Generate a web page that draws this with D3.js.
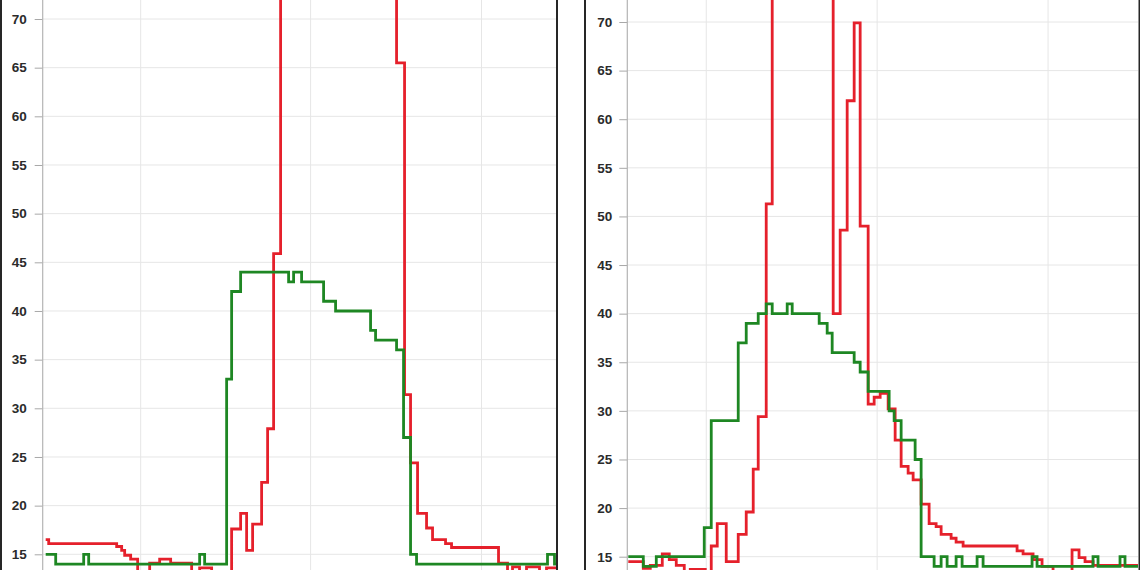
<!DOCTYPE html>
<html>
<head>
<meta charset="utf-8">
<script src="https://cdn.jsdelivr.net/npm/d3@7"></script>
<style>
  html, body { margin: 0; padding: 0; background: #fff; }
  svg { display: block; }
</style>
</head>
<body>
<svg width="1140" height="570"></svg>
<script>
// readings: [minute, value], value holds until the next reading
var yTicks = [15, 20, 25, 30, 35, 40, 45, 50, 55, 60, 65, 70];

var leftGridX = [98, 268, 439];
var leftRed = [
  [3, 16.5], [6, 16.1], [74, 15.8], [79, 15.4], [82, 14.9], [88, 14.5], [95, 13.0],
  [107, 14.1], [117, 14.5], [128, 14.1], [149, 13.0], [157, 13.6], [169, 12.5],
  [189, 17.6], [198, 19.2], [204, 15.4], [210, 18.1], [219, 22.4], [225, 27.9],
  [231, 45.9], [238, 80], [354, 65.5], [362, 31.4], [368, 24.4], [375, 19.2],
  [384, 17.7], [390, 16.5], [403, 16.1], [409, 15.7], [456, 14.1], [465, 13.0],
  [470, 13.7], [477, 13.1], [484, 13.7], [497, 13.1], [504, 13.6], [514, 13.6]
];
var leftGreen = [
  [3, 15], [13, 14], [41, 15], [46, 14], [157, 15], [162, 14], [184, 33], [189, 42],
  [198, 44], [246, 43], [251, 44], [259, 43], [281, 41], [293, 40], [328, 38],
  [333, 37], [354, 36], [361, 27], [368, 15], [374, 14], [505, 15], [512, 14], [514, 14]
];

var rightGridX = [79, 250, 421];
var rightRed = [
  [1, 14.5], [16, 13.8], [23, 14.1], [35, 15.3], [42, 14.7], [49, 14.1], [57, 13.0],
  [63, 13.7], [78, 12.5], [84, 16.1], [90, 18.4], [99, 14.5], [111, 17.3], [119, 19.6],
  [126, 24.0], [131, 29.4], [139, 51.3], [145, 85], [206, 40.0], [213, 48.6],
  [220, 61.9], [227, 69.9], [233, 49.0], [241, 30.7], [247, 31.4], [253, 31.8],
  [261, 30.2], [268, 27.0], [274, 24.3], [281, 23.6], [286, 22.9], [294, 20.4],
  [302, 18.4], [309, 18.1], [314, 17.3], [324, 16.9], [329, 16.5], [336, 16.1],
  [390, 15.6], [396, 15.3], [406, 14.7], [415, 14.0], [426, 12.5], [445, 15.7],
  [452, 14.9], [458, 14.5], [466, 14.1], [511, 14.1]
];
var rightGreen = [
  [1, 15], [16, 14], [29, 15], [77, 18], [84, 29], [111, 37], [119, 39], [131, 40],
  [139, 41], [145, 40], [160, 41], [165, 40], [192, 39], [200, 38], [205, 36],
  [227, 35], [233, 34], [241, 32], [262, 30], [267, 29], [274, 27], [288, 25],
  [294, 15], [307, 14], [314, 15], [320, 14], [329, 15], [335, 14], [350, 15],
  [356, 14], [405, 15], [410, 14], [466, 15], [471, 14], [493, 15], [498, 14], [511, 14]
];

var svg = d3.select("svg");
var redColor = "#e5202b",
    greenColor = "#1e8723";

// one chart panel, cut by the window like the screenshot
function drawPanel(cfg) {
  var x = d3.scaleLinear().domain([0, cfg.span]).range([cfg.x0, cfg.x1]);
  var y = d3.scaleLinear().domain([15, 70]).range([cfg.y15, cfg.y70]);
  var gridY = [10].concat(yTicks, [75]);

  var g = svg.append("g");

  // grid
  g.append("g").selectAll("line")
    .data(gridY)
    .enter().append("line")
    .attr("x1", cfg.x0).attr("x2", cfg.x1)
    .attr("y1", function(d) { return y(d); })
    .attr("y2", function(d) { return y(d); })
    .attr("stroke", "#e6e6e6")
    .attr("stroke-width", 1);
  g.append("g").selectAll("line")
    .data(cfg.gridX)
    .enter().append("line")
    .attr("x1", function(d) { return x(d); })
    .attr("x2", function(d) { return x(d); })
    .attr("y1", 0).attr("y2", 570)
    .attr("stroke", "#e6e6e6")
    .attr("stroke-width", 1);

  // y axis
  var axis = g.append("g")
    .attr("transform", "translate(" + cfg.x0 + ",0)")
    .call(d3.axisLeft(y).tickValues(yTicks).tickSize(8).tickPadding(cfg.pad).tickSizeOuter(0));
  axis.select(".domain").remove();
  axis.selectAll(".tick line").attr("stroke", "#a8a8a8");
  axis.selectAll(".tick text")
    .attr("fill", "#2b2b2b")
    .style("font-family", "'Liberation Sans', Arial, sans-serif")
    .style("font-size", "13.5px")
    .style("font-weight", "bold");
  g.append("line")
    .attr("x1", cfg.x0).attr("x2", cfg.x0)
    .attr("y1", 0).attr("y2", 570)
    .attr("stroke", "#b4b4b4")
    .attr("stroke-width", 1.2);

  var line = d3.line()
    .x(function(d) { return x(d[0]); })
    .y(function(d) { return y(d[1]); })
    .curve(d3.curveStepAfter);

  g.append("path")
    .datum(cfg.red)
    .attr("fill", "none")
    .attr("stroke", redColor)
    .attr("stroke-width", 2.8)
    .attr("d", line);
  g.append("path")
    .datum(cfg.green)
    .attr("fill", "none")
    .attr("stroke", greenColor)
    .attr("stroke-width", 2.8)
    .attr("d", line);

  // card edges
  g.append("g").selectAll("line")
    .data(cfg.frame)
    .enter().append("line")
    .attr("x1", function(d) { return d; })
    .attr("x2", function(d) { return d; })
    .attr("y1", 0).attr("y2", 570)
    .attr("stroke", "#262626")
    .attr("stroke-width", 2);
}

drawPanel({
  span: 514, x0: 42.7, x1: 556.5, y15: 554.3, y70: 19, pad: 8,
  gridX: leftGridX, red: leftRed, green: leftGreen, frame: [1, 557]
});
drawPanel({
  span: 511, x0: 627.3, x1: 1138, y15: 556.7, y70: 22, pad: 7,
  gridX: rightGridX, red: rightRed, green: rightGreen, frame: [585, 1139.5]
});
</script>
</body>
</html>
